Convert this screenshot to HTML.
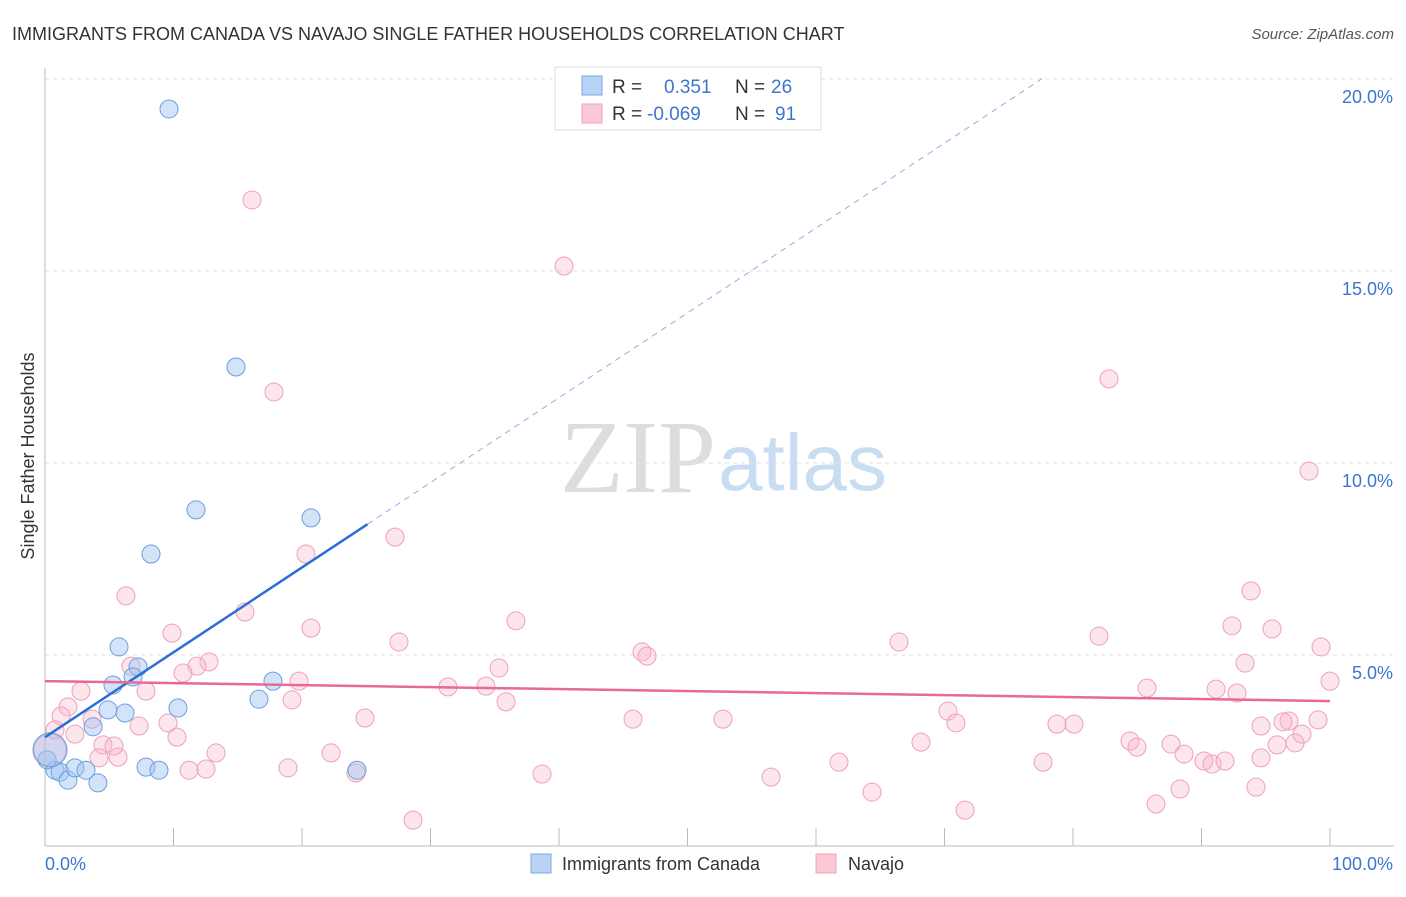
<!DOCTYPE html>
<html><head><meta charset="utf-8"><style>
body{margin:0;background:#fff;font-family:"Liberation Sans",sans-serif}
svg text{font-family:"Liberation Sans",sans-serif}
</style></head><body>
<svg id="c" width="1406" height="892">
<text x="12" y="40" font-size="18" fill="#333">IMMIGRANTS FROM CANADA VS NAVAJO SINGLE FATHER HOUSEHOLDS CORRELATION CHART</text>
<text x="1394" y="39" font-size="15" fill="#555" font-style="italic" text-anchor="end">Source: ZipAtlas.com</text>
<text x="716" y="492" font-size="104" fill="#ddd" text-anchor="end" style="font-family:'Liberation Serif',serif">ZIP</text>
<text x="718" y="490" font-size="80" fill="#c8dcf2">atlas</text>
<text transform="translate(34,456) rotate(-90)" font-size="18" fill="#333" text-anchor="middle">Single Father Households</text>
<g id="grid"></g><g id="pts"></g><g id="lines"></g>
<g>
<rect x="555" y="67" width="266" height="63" fill="#fff" stroke="#ddd"/>
<rect x="582" y="76" width="20" height="19" fill="#b8d3f5" stroke="#7aa8e4"/>
<rect x="582" y="104" width="20" height="19" fill="#fbc8d6" stroke="#f0a0b8"/>
<text x="612" y="93" font-size="19" fill="#333">R =</text>
<text x="664" y="93" font-size="19" fill="#3b76d0">0.351</text>
<text x="735" y="93" font-size="19" fill="#333">N =</text>
<text x="771" y="93" font-size="19" fill="#3b76d0">26</text>
<text x="612" y="120" font-size="19" fill="#333">R =</text>
<text x="647" y="120" font-size="19" fill="#3b76d0">-0.069</text>
<text x="735" y="120" font-size="19" fill="#333">N =</text>
<text x="775" y="120" font-size="19" fill="#3b76d0">91</text>
</g>
<g>
<rect x="531" y="854" width="20" height="19" fill="#b8d3f5" stroke="#7aa8e4"/>
<text x="562" y="870" font-size="18" fill="#333">Immigrants from Canada</text>
<rect x="816" y="854" width="20" height="19" fill="#fbc8d6" stroke="#f0a0b8"/>
<text x="848" y="870" font-size="18" fill="#333">Navajo</text>
</g>
</svg>
<script>
const blueX=[9.65,14.86,11.75,20.7,8.25,5.76,7.24,6.85,5.29,6.23,10.35,3.74,4.9,17.74,16.65,0.78,1.17,1.79,2.33,3.19,4.12,7.86,8.87,24.28,0.16,0.39];
const blueY=[19.22,12.5,8.78,8.57,7.63,5.21,4.69,4.43,4.22,3.49,3.62,3.13,3.57,4.32,3.85,2.0,1.95,1.74,2.06,2.0,1.67,2.08,2.0,2.0,2.27,2.53];
const pinkX=[16.11,40.39,17.82,82.8,98.37,27.24,20.31,6.3,15.56,36.65,9.88,20.7,92.37,95.49,93.85,66.46,82.02,27.55,99.3,46.46,46.85,12.76,11.83,6.69,10.74,35.33,93.39,19.77,31.36,34.32,7.86,2.8,85.76,91.13,92.76,100,19.22,35.88,1.79,1.25,3.66,24.9,45.76,52.76,70.27,70.89,78.75,80.08,96.81,99.07,94.63,96.34,7.32,9.57,0.78,2.33,10.27,97.82,68.17,84.44,84.98,87.63,97.28,95.88,4.51,5.37,5.68,4.2,13.31,22.26,88.64,90.19,90.82,91.83,94.63,61.79,77.67,12.53,11.21,18.91,24.2,38.68,56.5,88.33,94.24,64.36,86.46,71.6,28.64,0.39];
const pinkY=[16.85,15.13,11.85,12.19,9.79,8.07,7.63,6.54,6.12,5.89,5.57,5.7,5.76,5.68,6.67,5.34,5.49,5.34,5.21,5.08,4.97,4.82,4.71,4.71,4.53,4.66,4.79,4.32,4.17,4.19,4.06,4.06,4.14,4.11,4.01,4.32,3.83,3.78,3.65,3.41,3.33,3.36,3.33,3.33,3.54,3.23,3.2,3.2,3.28,3.31,3.15,3.26,3.15,3.23,3.05,2.94,2.86,2.94,2.73,2.76,2.6,2.68,2.71,2.66,2.66,2.63,2.34,2.32,2.45,2.45,2.42,2.24,2.16,2.24,2.32,2.21,2.21,2.03,2.0,2.06,1.93,1.9,1.82,1.51,1.56,1.43,1.12,0.96,0.7,2.53];
const yTicks=[5,10,15,20];
const yTickLabels=["5.0%","10.0%","15.0%","20.0%"];
const xTicks=[0,10,20,30,40,50,60,70,80,90,100];
const blueTrend=[2.86,0.221];
const pinkTrend=[4.32,-0.0052];
const NS="http://www.w3.org/2000/svg";
const sx=v=>45+v*12.85, sy=v=>847-v*38.4;
function mk(tag,at,par){const e=document.createElementNS(NS,tag);for(const k in at)e.setAttribute(k,at[k]);document.getElementById(par).appendChild(e);return e;}
yTicks.forEach((t,i)=>{
 const l=mk('line',{x1:45,x2:1394,y1:sy(t),y2:sy(t),stroke:'#e2e2e2','stroke-dasharray':'4,4'},'grid');
 
 
 const tx=mk('text',{x:1393,y:sy(t)+24,'font-size':18,fill:'#3b76d0','text-anchor':'end'},'grid');tx.textContent=yTickLabels[i];
 
 
});
const ax=mk('line',{x1:45,x2:1394,y1:846,y2:846,stroke:'#bbb'},'grid');


const ay=mk('line',{x1:45,x2:45,y1:68,y2:846,stroke:'#bbb'},'grid');


xTicks.forEach(t=>{const l=mk('line',{x1:sx(t),x2:sx(t),y1:828,y2:846,stroke:'#bbb'},'grid');
 
 });
const xl0=mk('text',{x:45,y:870,'font-size':18,fill:'#3b76d0'},'grid');xl0.textContent='0.0%';


const xl1=mk('text',{x:1393,y:870,'font-size':18,fill:'#3b76d0','text-anchor':'end'},'grid');xl1.textContent='100.0%';


pinkX.forEach((x,i)=>{const big=i===pinkX.length-1;const c=mk('circle',{cx:sx(x),cy:sy(pinkY[i]),r:big?16:9,fill:'rgba(248,180,200,0.35)',stroke:'#f0a0b8','stroke-width':1},'pts');
 
 });
blueX.forEach((x,i)=>{const big=i===blueX.length-1;const c=mk('circle',{cx:sx(x),cy:sy(blueY[i]),r:big?17:9,fill:'rgba(160,196,240,0.45)',stroke:'#6a9fe0','stroke-width':1},'pts');
 
 });
const bEnd=25.1, dEnd=77.6;
const b1=mk('line',{x1:sx(0),y1:sy(blueTrend[0]),x2:sx(bEnd),y2:sy(blueTrend[0]+blueTrend[1]*bEnd),stroke:'#2a6fd6','stroke-width':2.5},'lines');


const b2=mk('line',{x1:sx(bEnd),y1:sy(blueTrend[0]+blueTrend[1]*bEnd),x2:sx(dEnd),y2:sy(blueTrend[0]+blueTrend[1]*dEnd),stroke:'#8ab0e0','stroke-width':1,'stroke-dasharray':'6,5'},'lines');


const p1=mk('line',{x1:sx(0),y1:sy(pinkTrend[0]),x2:sx(100),y2:sy(pinkTrend[0]+pinkTrend[1]*100),stroke:'#e86a94','stroke-width':2.5},'lines');


</script>
</body></html>
